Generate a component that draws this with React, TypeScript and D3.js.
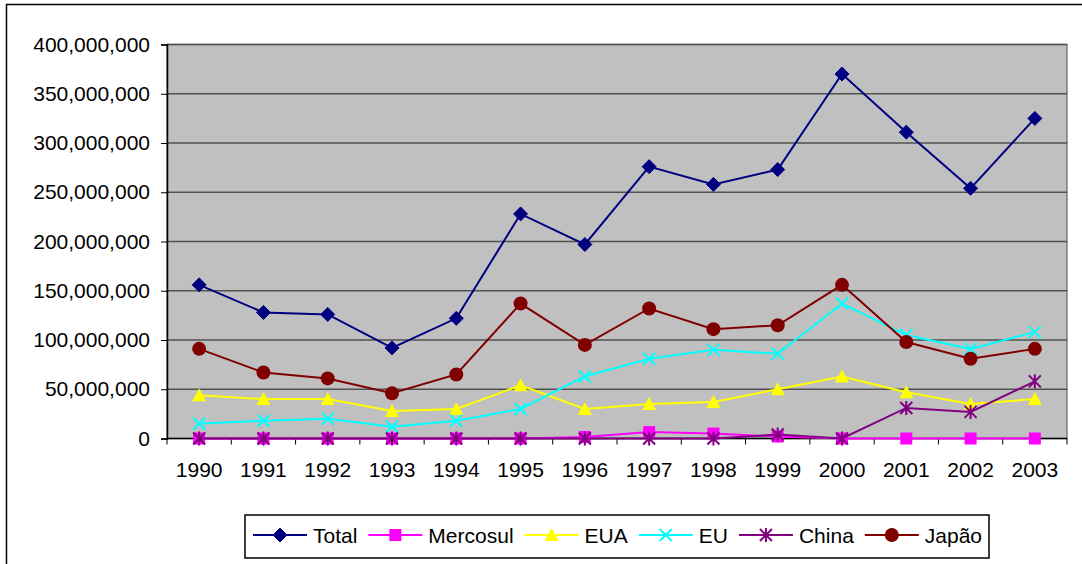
import React, { useEffect, useRef } from "react";
import * as d3 from "d3";

const years = ["1990", "1991", "1992", "1993", "1994", "1995", "1996", "1997", "1998", "1999", "2000", "2001", "2002", "2003"];

// values in units
const total = [156e6, 128e6, 126e6, 92e6, 122e6, 228e6, 197e6, 276e6, 258e6, 273e6, 370e6, 311e6, 254e6, 325e6];
const mercosul = [0, 0, 0, 0, 0, 0, 1.5e6, 6.5e6, 5e6, 2e6, 0, 0, 0, 0];
const eua = [44e6, 40e6, 40e6, 28e6, 30e6, 54e6, 30e6, 35e6, 37e6, 50e6, 63e6, 47e6, 35e6, 40e6];
const eu = [15e6, 18e6, 20e6, 12e6, 18e6, 30e6, 63e6, 81e6, 90e6, 86e6, 137e6, 105e6, 91e6, 108e6];
const china = [0, 0, 0, 0, 0, 0, 0, 0, 0, 4e6, 0, 31e6, 27e6, 58e6];
const japao = [91e6, 67e6, 61e6, 46e6, 65e6, 137e6, 95e6, 132e6, 111e6, 115e6, 156e6, 98e6, 81e6, 91e6];

const yTicks = [0, 50e6, 100e6, 150e6, 200e6, 250e6, 300e6, 350e6, 400e6];

type Series = { name: string; values: number[]; color: string; marker: string };

const series: Series[] = [
  { name: "Total", values: total, color: "#000080", marker: "diamond" },
  { name: "Mercosul", values: mercosul, color: "#FF00FF", marker: "square" },
  { name: "EUA", values: eua, color: "#FFFF00", marker: "triangle" },
  { name: "EU", values: eu, color: "#00FFFF", marker: "x" },
  { name: "China", values: china, color: "#800080", marker: "asterisk" },
  { name: "Japão", values: japao, color: "#800000", marker: "circle" },
];

const FONT = "'Liberation Sans', Arial, sans-serif";
const FS = 21;

// draws a marker centered at 0,0 into group g
function drawMarker(g: d3.Selection<SVGGElement, unknown, null, undefined>, type: string, color: string) {
  if (type === "diamond") {
    g.append("path").attr("d", "M0,-7L7,0L0,7L-7,0Z").attr("fill", color).attr("stroke", color).attr("stroke-width", 1);
  } else if (type === "square") {
    g.append("rect").attr("x", -6).attr("y", -6).attr("width", 12).attr("height", 12).attr("fill", color);
  } else if (type === "triangle") {
    g.append("path").attr("d", "M0,-7L7,6L-7,6Z").attr("fill", color);
  } else if (type === "x") {
    g.append("path").attr("d", "M-6,-6L6,6M-6,6L6,-6").attr("stroke", color).attr("stroke-width", 2).attr("fill", "none");
  } else if (type === "asterisk") {
    g.append("path")
      .attr("d", "M-6,-6L6,6M-6,6L6,-6M0,-7L0,7")
      .attr("stroke", color)
      .attr("stroke-width", 2)
      .attr("fill", "none");
  } else if (type === "circle") {
    g.append("circle").attr("r", 7).attr("fill", color);
  }
}

const App: React.FC = () => {
  const svgRef = useRef<SVGSVGElement>(null);

  useEffect(() => {
    if (!svgRef.current) return;
    const width = 1082;
    const height = 564;
    const plot = { left: 167, right: 1067, top: 44.5, bottom: 438.5 };

    const svg = d3.select(svgRef.current).attr("width", width).attr("height", height);
    svg.selectAll("*").remove();

    // chart border
    svg
      .append("rect")
      .attr("x", 6.5)
      .attr("y", 4.5)
      .attr("width", 1090)
      .attr("height", 600)
      .attr("fill", "#fff")
      .attr("stroke", "#000")
      .attr("stroke-width", 1.5);

    const xScale = d3.scalePoint<string>().domain(years).range([plot.left, plot.right]).padding(0.5);
    const yScale = d3.scaleLinear().domain([0, 400e6]).range([plot.bottom, plot.top]);

    // plot area
    svg
      .append("rect")
      .attr("x", plot.left)
      .attr("y", plot.top)
      .attr("width", plot.right - plot.left)
      .attr("height", plot.bottom - plot.top)
      .attr("fill", "#C0C0C0")
      .attr("stroke", "#808080")
      .attr("stroke-width", 1.5);

    // gridlines
    svg
      .append("g")
      .selectAll("line")
      .data(yTicks.filter((t) => t > 0))
      .join("line")
      .attr("x1", plot.left)
      .attr("x2", plot.right)
      .attr("y1", (d) => yScale(d))
      .attr("y2", (d) => yScale(d))
      .attr("stroke", "#505050")
      .attr("stroke-width", 1.5);

    // y axis
    const yAxis = svg
      .append("g")
      .attr("transform", `translate(${plot.left},0)`)
      .call(
        d3
          .axisLeft(yScale)
          .tickValues(yTicks)
          .tickSize(6)
          .tickPadding(11)
          .tickFormat((d) => d3.format(",")(d as number))
      );
    yAxis.select(".domain").attr("stroke", "#000").attr("stroke-width", 1.5);
    yAxis.selectAll("line").attr("stroke", "#000");
    yAxis.selectAll("text").attr("font-family", FONT).attr("font-size", FS).attr("fill", "#000");

    // x axis
    const xAxis = svg.append("g").attr("transform", `translate(0,${plot.bottom})`);
    xAxis
      .append("line")
      .attr("x1", plot.left)
      .attr("x2", plot.right)
      .attr("stroke", "#000")
      .attr("stroke-width", 1.5);
    const step = xScale.step();
    xAxis
      .selectAll("line.tick")
      .data(d3.range(years.length + 1))
      .join("line")
      .attr("class", "tick")
      .attr("x1", (i) => plot.left + i * step)
      .attr("x2", (i) => plot.left + i * step)
      .attr("y1", 0)
      .attr("y2", 6)
      .attr("stroke", "#000");
    xAxis
      .selectAll("text")
      .data(years)
      .join("text")
      .attr("x", (d) => xScale(d)!)
      .attr("y", 38.5)
      .attr("text-anchor", "middle")
      .attr("font-family", FONT)
      .attr("font-size", FS)
      .text((d) => d);

    // lines and markers
    series.forEach((s) => {
      const line = d3
        .line<number>()
        .x((_, i) => xScale(years[i])!)
        .y((d) => yScale(d));
      svg
        .append("path")
        .datum(s.values)
        .attr("fill", "none")
        .attr("stroke", s.color)
        .attr("stroke-width", 2)
        .attr("d", line);
      s.values.forEach((v, i) => {
        const g = svg.append("g").attr("transform", `translate(${xScale(years[i])},${yScale(v)})`);
        drawMarker(g, s.marker, s.color);
      });
    });

    // legend
    const legend = svg.append("g");
    legend
      .append("rect")
      .attr("x", 245)
      .attr("y", 515)
      .attr("width", 744)
      .attr("height", 43)
      .attr("fill", "#fff")
      .attr("stroke", "#000")
      .attr("stroke-width", 1.5);
    let lx = 253;
    const ly = 535;
    series.forEach((s) => {
      legend
        .append("line")
        .attr("x1", lx)
        .attr("x2", lx + 54)
        .attr("y1", ly)
        .attr("y2", ly)
        .attr("stroke", s.color)
        .attr("stroke-width", 2);
      const g = legend.append("g").attr("transform", `translate(${lx + 27},${ly})`);
      drawMarker(g, s.marker, s.color);
      const t = legend
        .append("text")
        .attr("x", lx + 60)
        .attr("y", ly + 7.5)
        .attr("font-family", FONT)
        .attr("font-size", FS)
        .text(s.name);
      const w = (t.node() as SVGTextElement).getComputedTextLength();
      lx += 60 + w + 11;
    });
  }, []);

  return (
    <div style={{ position: "absolute", left: 0, top: 0 }}>
      <svg ref={svgRef} style={{ display: "block" }}></svg>
    </div>
  );
};

export default App;
